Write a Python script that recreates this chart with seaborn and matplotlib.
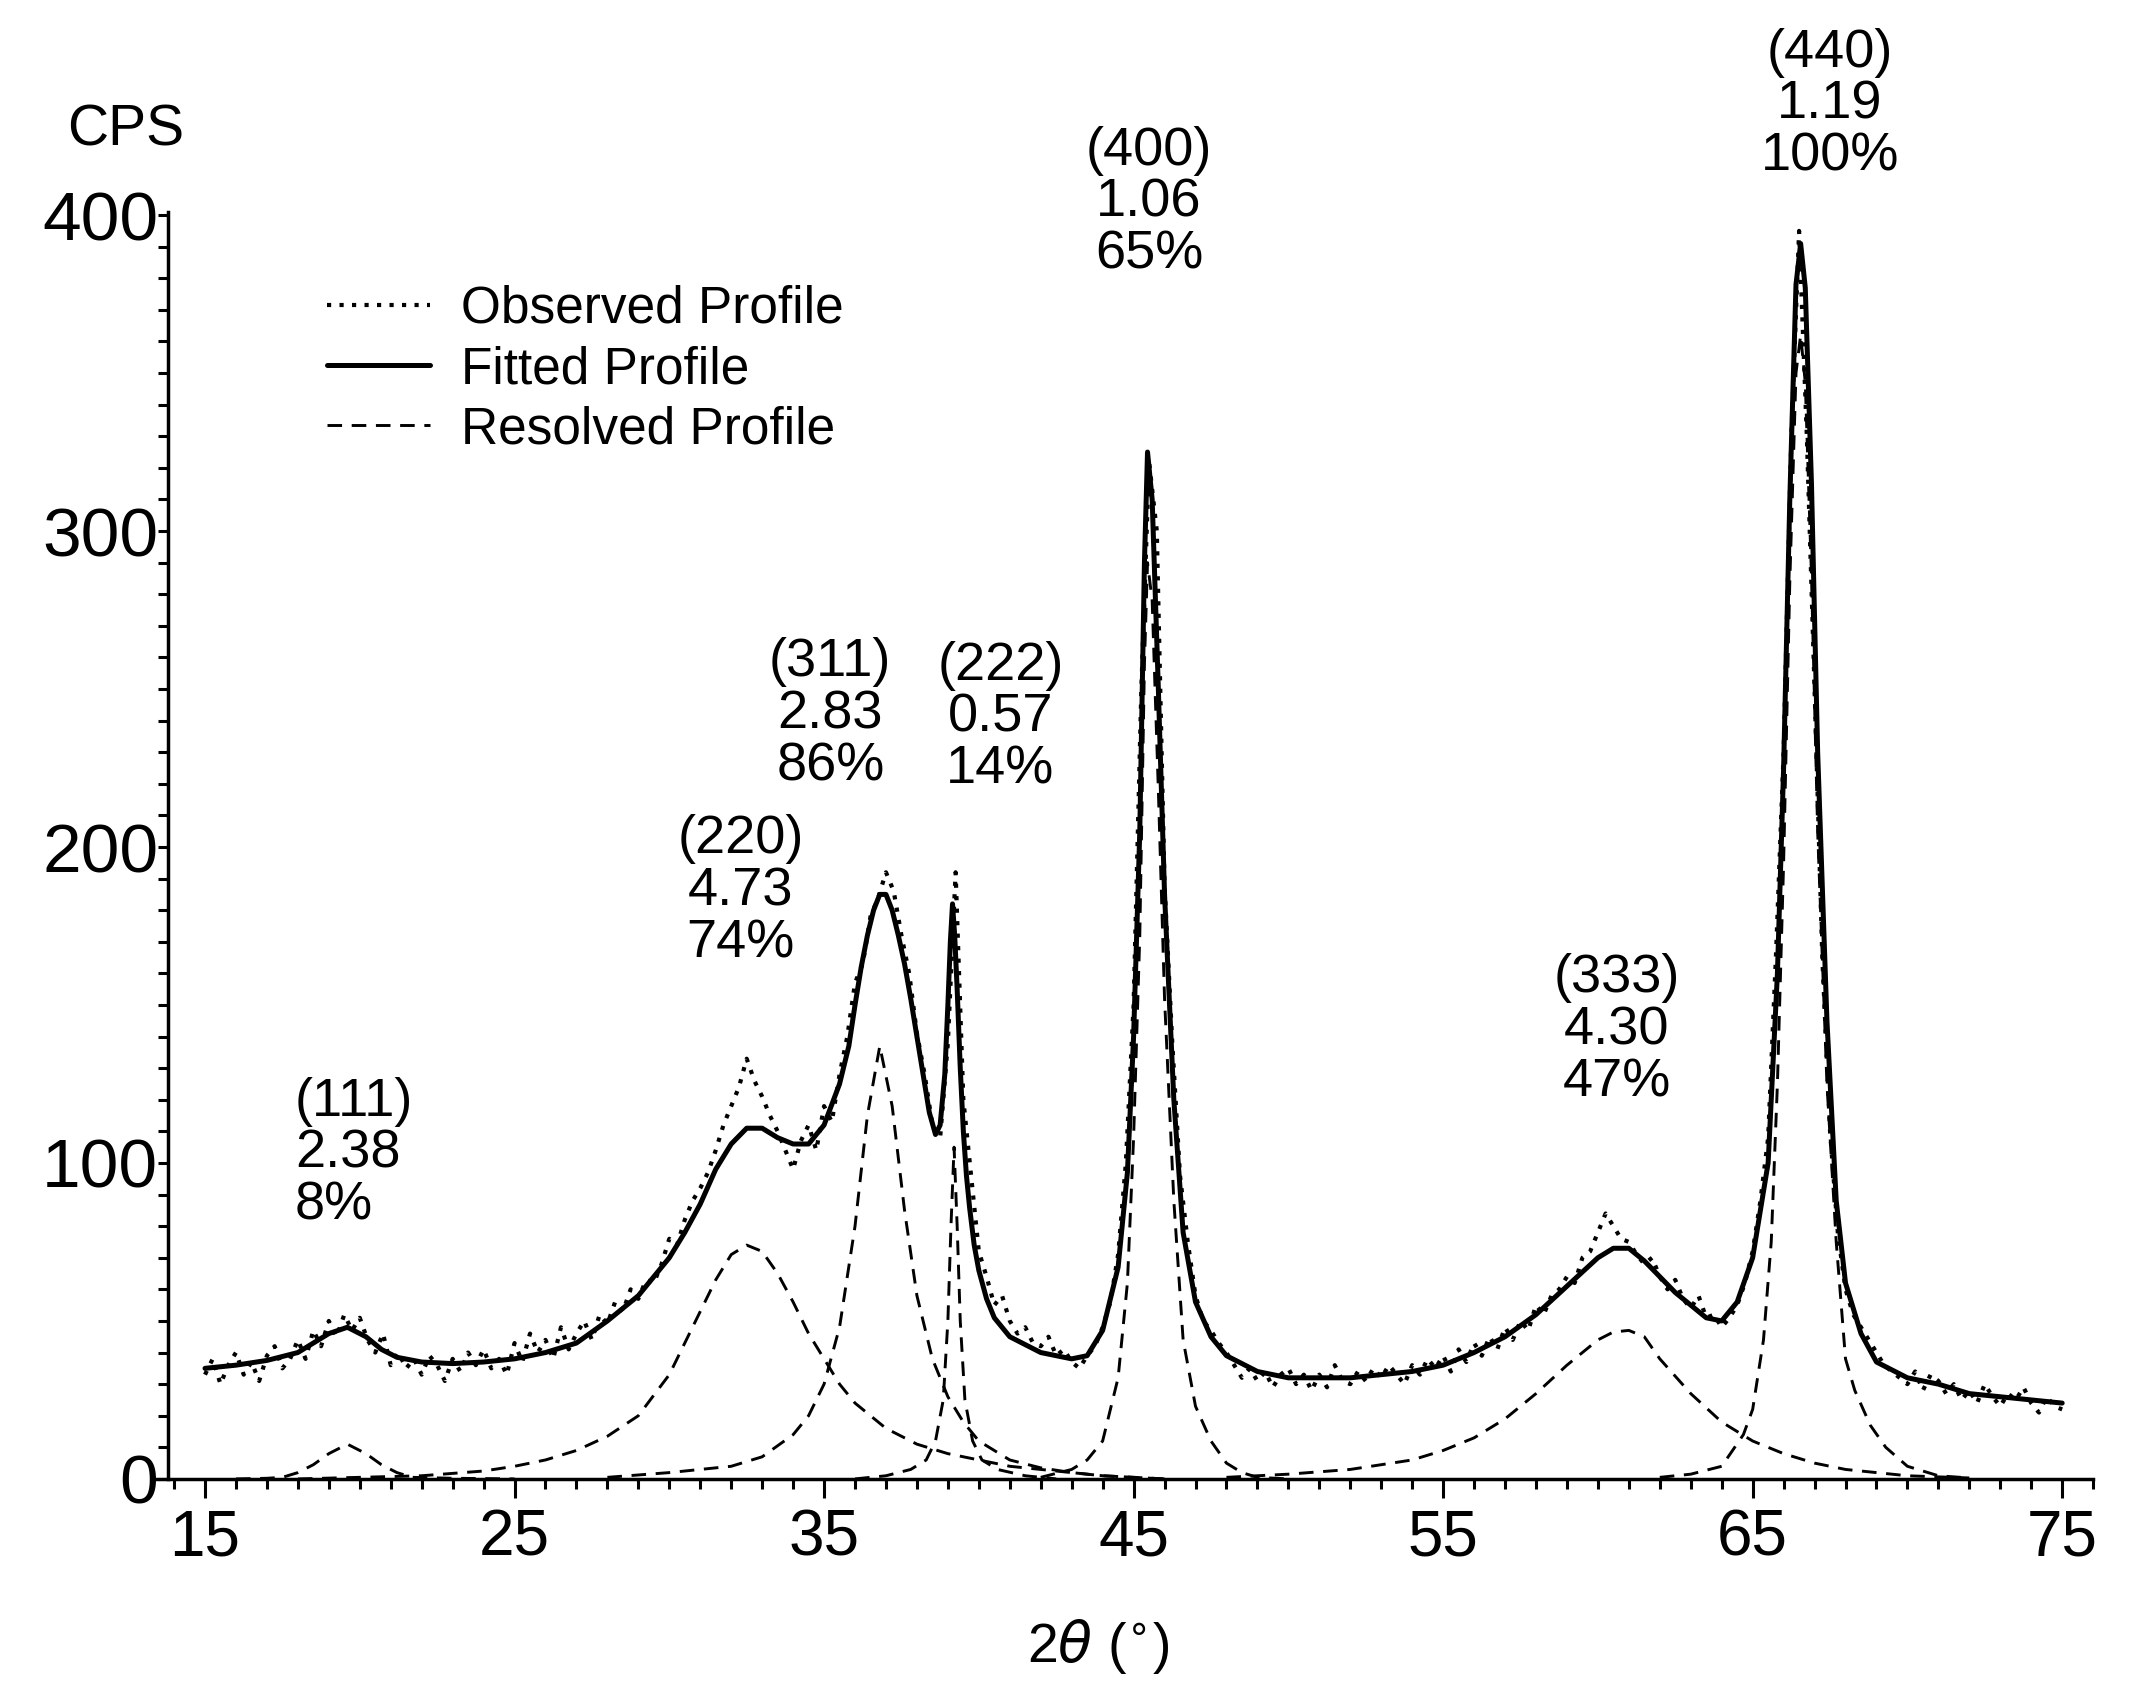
import numpy as np
import pandas as pd
import seaborn as sns
import matplotlib
matplotlib.use('Agg')
import matplotlib.pyplot as plt
from matplotlib.ticker import MultipleLocator

# observed scan, 0.25 deg steps from 15 to 75
obs_x = np.linspace(15, 75, 241)
obs_y = [33, 38, 30, 36, 40, 33, 37, 31, 39, 42, 35, 38, 44, 38, 47, 42,
         50, 45, 52, 47, 51, 44, 40, 46, 36, 40, 35, 38, 33, 39, 36, 31,
         38, 34, 40, 36, 41, 35, 38, 33, 43, 37, 46, 40, 44, 38, 48, 41,
         46, 50, 44, 52, 49, 56, 53, 60, 57, 63, 62, 68, 76, 74, 82, 88,
         92, 97, 104, 112, 118, 124, 133, 126, 121, 115, 110, 104,
         98, 107, 112, 104, 118, 113, 128, 140, 157, 163, 178, 184,
         192, 186, 172, 160, 141, 128, 112, 108, 138, 192, 120, 96,
         72, 64, 55, 58, 50, 46, 48, 43, 42, 45, 39, 41, 37, 35, 39, 42,
         48, 56, 71, 100, 150, 250, 322, 300, 188, 138, 96, 75,
         58, 50, 47, 43, 40, 36, 32, 35, 31, 34, 29, 33, 35, 30, 33, 28,
         33, 29, 36, 31, 30, 34, 31, 35, 32, 36, 33, 30, 36, 33, 38, 35,
         39, 34, 41, 37, 43, 39, 45, 41, 48, 44, 50, 47, 55, 52, 58, 60,
         64, 62, 70, 72, 78, 84, 80, 76, 75, 71, 68, 70, 64, 60, 63, 57,
         54, 58, 51, 52, 48, 51, 55, 62, 72, 88, 108, 165,
         230, 330, 395, 330, 250, 165, 110, 78, 60, 52, 48, 44,
         40, 36, 34, 32, 30, 34, 28, 33, 31, 27, 30, 25, 28, 24, 30, 26,
         23, 27, 25, 29, 24, 21, 26, 23, 22]

# fitted profile
fit_x = [15, 16, 17, 18, 18.5, 19, 19.6, 20.2, 20.7, 21.2, 22, 23, 24, 25,
         26, 27, 28, 29, 30, 30.5, 31, 31.5, 32, 32.5, 33, 33.5, 34, 34.5,
         35, 35.5, 35.8, 36, 36.2, 36.4, 36.6, 36.8, 37.0, 37.2, 37.4, 37.6,
         37.8, 38, 38.2, 38.4, 38.6, 38.75, 38.9, 39.0, 39.08, 39.15, 39.22,
         39.3, 39.4, 39.5, 39.6, 39.7, 39.85, 40, 40.25, 40.5, 41, 42, 43,
         43.5, 44, 44.5, 44.8, 45, 45.2, 45.35, 45.45, 45.6, 45.8, 46, 46.3,
         46.6, 47, 47.5, 48, 49, 50, 52, 54, 55, 56, 57, 58, 59, 60, 60.5,
         61, 61.5, 62, 62.5, 63, 63.5, 64, 64.5, 65, 65.5, 65.8, 66, 66.2,
         66.4, 66.55, 66.7, 66.9, 67.1, 67.4, 67.7, 68, 68.5, 69, 70, 71, 72,
         73, 74, 75]
fit_y = [35, 36, 37.5, 40, 43, 46, 48, 45, 41, 38.5, 37, 36.5, 37, 38,
         40, 43, 50, 58, 70, 78, 87, 98, 106, 111, 111, 108, 106, 106,
         112, 125, 137, 150, 162, 172, 180, 185, 185, 180, 172, 163,
         152, 140, 128, 116, 109, 112, 128, 150, 170, 182, 172,
         155, 130, 110, 96, 86, 74, 66, 57, 51, 45, 40, 38,
         39, 47, 67, 97, 140, 205, 290, 325, 310, 250, 185, 120,
         78, 56, 45, 39, 34, 32, 32, 34, 36, 40, 45, 52, 61, 70, 73,
         73, 69, 64, 59, 55, 51, 50, 56, 70, 100, 160, 225, 310,
         378, 391, 377, 315, 230, 145, 88, 62, 46, 37, 32, 30, 27,
         26, 25, 24]

# resolved peaks
res111_x = [16, 17, 17.5, 18, 18.5, 19, 19.6, 20.2, 20.7, 21.2, 21.7, 23, 25]
res111_y = [0, 0.2, 0.5, 2, 4.5, 8, 11, 8, 4.5, 2, 0.5, 0.2, 0]

res220_x = [18, 20, 22, 24, 25, 26, 27, 28, 29, 30, 30.5, 31, 31.5, 32,
            32.5, 33, 33.5, 34, 34.5, 35, 35.5, 36, 37, 38, 39, 40, 41, 42,
            43, 44, 46]
res220_y = [0, 0.5, 1, 2.5, 4, 6, 9, 13.5, 20, 33, 43, 53, 63, 71,
            74, 72, 65, 56, 46, 38, 30, 24, 16, 11, 8, 6, 4, 3,
            2, 1, 0]

res311_x = [28, 30, 32, 33, 34, 34.5, 35, 35.5, 36, 36.4, 36.8, 37.2, 37.6,
            38, 38.5, 39, 39.5, 40, 41, 42, 43, 44, 46]
res311_y = [0.5, 2, 4, 7, 14, 20, 30, 48, 80, 115, 137, 118, 85,
            58, 38, 26, 18, 12, 6, 3.5, 2, 1, 0]

res222_x = [36, 37, 37.8, 38.3, 38.6, 38.85, 39.0, 39.1, 39.2, 39.3, 39.4,
            39.55, 39.8, 40.1, 40.6, 41.5, 42.5]
res222_y = [0, 1, 3, 6, 12, 25, 50, 80, 105, 80, 50, 25, 12, 6, 3, 1, 0]

res400_x = [42, 43, 43.5, 44, 44.5, 44.8, 45, 45.2, 45.35, 45.45, 45.6, 45.8,
            46, 46.3, 46.6, 47, 47.5, 48, 48.5, 49, 50]
res400_y = [0.5, 3, 6, 12, 32, 62, 108, 172, 258, 290, 278, 218,
            152, 88, 44, 23, 12, 5, 2, 0.5, 0]

res333_x = [48, 50, 52, 54, 55, 56, 57, 58, 59, 60, 60.5, 61, 61.5, 62, 63,
            64, 65, 66, 67, 68, 69, 70, 72]
res333_y = [0.5, 1.5, 3, 6, 9, 13, 19, 27, 36, 44, 46.5, 47, 45, 38, 27,
            18, 12, 8, 5, 3, 2, 1, 0.3]

res440_x = [62, 63, 64, 64.7, 65, 65.35, 65.6, 65.8, 66, 66.2, 66.4, 66.55,
            66.7, 66.9, 67.1, 67.4, 67.7, 68, 68.3, 68.8, 69.3, 70, 71, 72]
res440_y = [0.5, 1.5, 4, 14, 22, 44, 75, 125, 195, 284, 350, 362,
            347, 286, 205, 125, 75, 38, 28, 17, 10, 4, 1, 0.3]

resolved = [(res111_x, res111_y), (res220_x, res220_y), (res311_x, res311_y),
            (res222_x, res222_y), (res400_x, res400_y), (res333_x, res333_y),
            (res440_x, res440_y)]

# peak labels: (hkl, FWHM, relative intensity)
peak_hkl = ["(111)", "(220)", "(311)", "(222)", "(400)", "(333)", "(440)"]
peak_fwhm = ["2.38", "4.73", "2.83", "0.57", "1.06", "4.30", "1.19"]
peak_int = ["8%", "74%", "86%", "14%", "65%", "47%", "100%"]
label_x = [17.9, 32.3, 35.2, 40.7, 45.5, 60.6, 67.5]
label_y = [103, 186, 242, 241, 404, 142, 435]

sns.set_theme(style="ticks", rc={"text.color": "black", "axes.labelcolor": "black",
                                 "xtick.color": "black", "ytick.color": "black",
                                 "axes.edgecolor": "black"})
plt.rcParams['font.family'] = ['Liberation Sans', 'DejaVu Sans']

fig = plt.figure(figsize=(21.51, 17.05), dpi=100)
ax = fig.add_axes([0.0707, 0.1326, 0.9024, 0.7431])

dash = (0, (5, 3.3))
sns.lineplot(x=obs_x, y=obs_y, ax=ax, color="black", lw=3.0,
             linestyle=(0, (1, 2.0)), label="Observed Profile")
sns.lineplot(x=fit_x, y=fit_y, ax=ax, color="black", lw=3.6,
             label="Fitted Profile")
for i, (rx, ry) in enumerate(resolved):
    sns.lineplot(x=rx, y=ry, ax=ax, color="black", lw=2.1, linestyle=dash,
                 label="Resolved Profile" if i == 0 else None)

ax.set_xlim(13.29, 76.0)
ax.set_ylim(0, 401)
ax.spines['left'].set_position(('data', 13.8))
ax.spines['left'].set_bounds(0, 401)
for s in ['top', 'right']:
    ax.spines[s].set_visible(False)
for s in ['left', 'bottom']:
    ax.spines[s].set_linewidth(2.5)

ax.xaxis.set_minor_locator(MultipleLocator(1))
ax.yaxis.set_major_locator(MultipleLocator(100))
ax.yaxis.set_minor_locator(MultipleLocator(10))
ax.set_xticks([15, 25, 35, 45, 55, 65, 75])
ax.tick_params(axis='x', which='major', length=14, width=2.2, labelsize=46, pad=7)
ax.tick_params(axis='x', which='minor', length=7, width=2.2)
ax.tick_params(axis='y', which='both', length=7, width=2.2)
ax.tick_params(axis='y', which='major', labelsize=50, pad=0)
ax.set_xlabel("")
ax.set_ylabel("")

for hkl, fw, inten, lx, ly, i in zip(peak_hkl, peak_fwhm, peak_int,
                                     label_x, label_y, range(7)):
    ha = 'left' if i == 0 else 'center'
    ax.text(lx, ly, hkl + "\n" + fw + "\n" + inten, ha=ha, va='center',
            fontsize=39, linespacing=1.05, multialignment=ha, clip_on=False)

ax.legend(loc='upper left', bbox_to_anchor=(0.152, 0.833),
          bbox_transform=fig.transFigure, frameon=False, fontsize=37,
          handlelength=2.0, handletextpad=0.6, labelspacing=0.22,
          borderpad=0, borderaxespad=0)

fig.text(126 / 2151, 1 - 130 / 1705, "CPS", ha='center', va='center', fontsize=41)
fig.text(1098 / 2151, 1 - 1646 / 1705, r"2$\theta$ ($^{\circ}$)",
         ha='center', va='center', fontsize=40)

fig.savefig("out.png", dpi=100, facecolor="white")
plt.close("all")
